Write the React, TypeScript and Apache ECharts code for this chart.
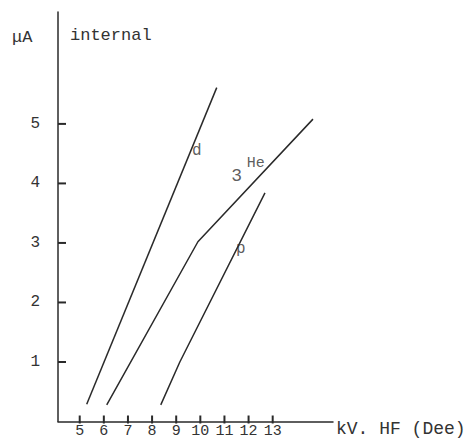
import React, { useEffect, useRef } from "react";
import * as echarts from "echarts";

// axis ticks (kV on x, µA on y)
const xTickValues = [5, 6, 7, 8, 9, 10, 11, 12, 13];
const yTickValues = [1, 2, 3, 4, 5];
const X_MIN = 4.1;
const X_MAX = 15.5;
const Y_MAX = 6.88;

// curves
const dX = [5.29, 10.68];
const dY = [0.29, 5.61];
const heX = [6.12, 9.9, 14.67];
const heY = [0.28, 3.02, 5.08];
const pX = [8.36, 9.15, 12.68];
const pY = [0.28, 1.0, 3.84];

// curve labels
const labelText = ["d", "3", "He", "p"];
const labelX = [9.85, 11.51, 12.3, 11.68];
const labelY = [4.55, 4.12, 4.34, 2.9];
const labelSize = [16, 18, 15, 16];

const INK = "#2a2a2a";
const FONT = "Liberation Mono";

const zip = (xs: number[], ys: number[]) => xs.map((x, i) => [x, ys[i]]);

export default function App() {
  const ref = useRef<HTMLDivElement>(null);
  useEffect(() => {
    if (!ref.current) return;
    const chart = echarts.init(ref.current, null, { renderer: "svg" });
    const lineStyle = { color: INK, width: 1.5 };
    chart.setOption({
      animation: false,
      backgroundColor: "#ffffff",
      grid: { left: 58, right: 143, top: 12, bottom: 18.5 },
      xAxis: {
        type: "value",
        min: X_MIN,
        max: X_MAX,
        axisLine: { show: true, lineStyle: { color: INK, width: 1.5 } },
        axisTick: { show: false },
        axisLabel: {
          customValues: xTickValues,
          margin: 2,
          fontSize: 15,
          fontFamily: FONT,
          color: "#333",
        },
        splitLine: { show: false },
      },
      yAxis: {
        type: "value",
        min: 0,
        max: Y_MAX,
        axisLine: { show: true, lineStyle: { color: INK, width: 1.5 } },
        axisTick: { show: false },
        axisLabel: {
          customValues: yTickValues,
          margin: 18,
          fontSize: 16,
          fontFamily: FONT,
          color: "#333",
        },
        splitLine: { show: false },
      },
      series: [
        { type: "line", data: zip(dX, dY), symbol: "none", lineStyle, silent: true },
        { type: "line", data: zip(heX, heY), symbol: "none", lineStyle, silent: true },
        { type: "line", data: zip(pX, pY), symbol: "none", lineStyle, silent: true },
        // x-axis tick marks
        {
          type: "scatter",
          silent: true,
          clip: false,
          symbol: "rect",
          symbolSize: [2, 8],
          symbolOffset: [0, -2],
          itemStyle: { color: INK, opacity: 1 },
          data: xTickValues.map((v) => [v, 0]),
        },
        // y-axis tick marks
        {
          type: "scatter",
          silent: true,
          clip: false,
          symbol: "rect",
          symbolSize: [8, 2],
          symbolOffset: [4, 0],
          itemStyle: { color: INK, opacity: 1 },
          data: yTickValues.map((v) => [X_MIN, v]),
        },
        {
          type: "scatter",
          symbolSize: 0,
          silent: true,
          clip: false,
          data: labelText.map((t, i) => ({
            name: t,
            value: [labelX[i], labelY[i]],
            label: {
              show: true,
              position: "inside",
              formatter: t,
              fontSize: labelSize[i],
              fontFamily: FONT,
              color: "#333",
            },
          })),
        },
      ],
      graphic: [
        {
          type: "text",
          left: 12,
          top: 29,
          style: { text: "μA", font: `17px "${FONT}"`, fill: "#333" },
        },
        {
          type: "text",
          left: 70,
          top: 27,
          style: { text: "internal", font: `17px "${FONT}"`, fill: "#333" },
        },
        {
          type: "text",
          left: 336,
          top: 420,
          style: { text: "kV. HF (Dee)", font: `18px "${FONT}"`, fill: "#333" },
        },
      ],
    });
    return () => chart.dispose();
  }, []);
  return (
    <div
      ref={ref}
      style={{ position: "fixed", left: 0, top: 0, width: 476, height: 440 }}
    />
  );
}
